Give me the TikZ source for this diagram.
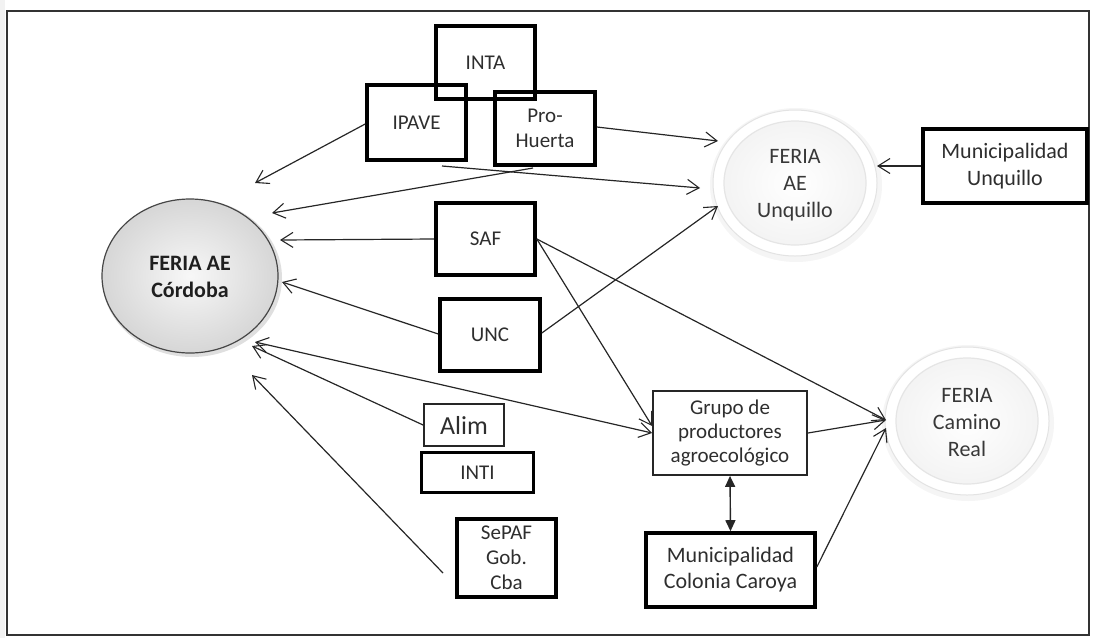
\documentclass[tikz,border=0pt]{standalone}
\usepackage{fontspec}
\setmainfont{Carlito}
\usetikzlibrary{arrows.meta,shapes.geometric}
\tikzset{
  every node/.style={text=black!82, align=center, inner sep=0pt},
  txt/.style={font=\fontsize{21}{25.5}\selectfont},
  boxthick/.style={txt, draw=black, line width=3.6pt, minimum width=#1},
  boxthin/.style={txt, draw=black!85, line width=1.8pt, minimum width=#1},
  conn/.style={draw=black!85, line width=1.2pt, -{Straight Barb[length=12pt,width=15pt,line width=1.1pt]}},
  dbl/.style={draw=black!85, line width=1.4pt, {Triangle[length=11pt,width=10pt]}-{Triangle[length=11pt,width=10pt]}},
  feria/.style={txt, minimum width=#1}
}
\begin{document}
\begin{tikzpicture}[x=1pt,y=-1pt]
\useasboundingbox (0,0) rectangle (1094,638);
\fill[gray!10] (0,0) rectangle (5,638);
\draw[black!80, line width=1.6pt] (7,11) rectangle (1089,635);

% ---- ellipses (decoration) ----
% Cordoba
\fill[gray!25] (192,278) ellipse [x radius=90, y radius=79];
\shade[inner color=gray!6, outer color=gray!32] (190,276) ellipse [x radius=88, y radius=77];
\draw[gray!55!black, line width=1.2pt] (190,276) ellipse [x radius=88, y radius=77];
% Unquillo ring
\fill[gray!8] (796,185) ellipse [x radius=86, y radius=77];
\fill[white] (795,183) ellipse [x radius=82, y radius=73];
\draw[gray!22, line width=1pt] (795,183) ellipse [x radius=82, y radius=73];
\shade[inner color=white, outer color=gray!9] (795,183) ellipse [x radius=71, y radius=62];
\draw[gray!20, line width=1.2pt] (795,183) ellipse [x radius=71, y radius=62];
% Camino Real ring
\fill[gray!8] (968,423) ellipse [x radius=86, y radius=78];
\fill[white] (967,421) ellipse [x radius=82, y radius=74];
\draw[gray!22, line width=1pt] (967,421) ellipse [x radius=82, y radius=74];
\shade[inner color=white, outer color=gray!9] (967,421) ellipse [x radius=71, y radius=63];
\draw[gray!20, line width=1.2pt] (967,421) ellipse [x radius=71, y radius=63];

% ---- nodes ----
\node[txt, font=\fontsize{22}{27}\selectfont\bfseries, text=black!88] (cord) at (190,277) {FERIA AE\\Córdoba};
\node[txt, text=black!78, font=\fontsize{22}{27}\selectfont] (unq) at (795,185) {FERIA\\AE\\Unquillo};
\node[txt, text=black!78, font=\fontsize{22}{27}\selectfont] (cam) at (967,423) {FERIA\\Camino\\Real};

\node[boxthick=99pt, minimum height=73pt] (inta) at (485.5,62.5) {INTA};
\node[boxthick=99pt, minimum height=75pt] (ipave) at (416.5,122.5) {IPAVE};
\node[boxthick=100pt, minimum height=73pt] (pro) at (545,128.5) {Pro-\\Huerta};
\node[boxthick=99pt, minimum height=72pt] (saf) at (485.5,239) {SAF};
\node[boxthick=100pt, minimum height=72pt] (unc) at (490,335) {UNC};
\node[boxthin=80pt, minimum height=42pt, font=\fontsize{26}{30}\selectfont] (alim) at (464,425) {Alim};
\node[boxthick=112pt, minimum height=40pt, line width=2.8pt] (inti) at (477.5,472.5) {INTI};
\node[boxthick=99pt, minimum height=78pt, font=\fontsize{21}{25}\selectfont] (sepaf) at (506.5,558) {SePAF\\Gob.\\Cba};
\node[boxthin=154pt, minimum height=84pt, font=\fontsize{21}{24}\selectfont] (grupo) at (730,433) {Grupo de\\productores\\agroecológico};
\node[boxthick=169pt, minimum height=74pt, font=\fontsize{22}{26}\selectfont] (caroya) at (730.5,570) {Municipalidad\\Colonia Caroya};
\node[boxthick=164pt, minimum height=74pt, font=\fontsize{22}{27}\selectfont] (munq) at (1005,166) {Municipalidad\\Unquillo};

% ---- free ends ----
\coordinate (ipaveS) at (442,166);
\coordinate (proS) at (533,168);
\coordinate (sepafS) at (443,573);
\coordinate (tIpave) at (255,183);
\coordinate (tPro) at (272,213);
\coordinate (tSaf) at (280,240);
\coordinate (tUnc) at (282,282);
\coordinate (tGrupo) at (255,342);
\coordinate (tAlim) at (252,346);
\coordinate (tSepaf) at (252,375);
\coordinate (uPro) at (718,141);
\coordinate (uIpave) at (700,188);
\coordinate (uUnc) at (718,206);
\coordinate (uMun) at (877,166);
\coordinate (cA) at (886,420);
\coordinate (cB) at (886,428);

% ---- connectors ----
\draw[conn] (ipave.west |- 0,124) -- (tIpave);
\draw[conn] (proS) -- (tPro);
\draw[conn] (saf.west) -- (tSaf);
\draw[conn] (unc.west |- 0,334) -- (tUnc);
\draw[conn, {Straight Barb[length=12pt,width=15pt,line width=1.1pt]}-{Straight Barb[length=12pt,width=15pt,line width=1.1pt]}] (tGrupo) -- (grupo.west);
\draw[conn] (alim.west) -- (tAlim);
\draw[conn] (sepafS) -- (tSepaf);
\draw[conn] (pro.east |- 0,127) -- (uPro);
\draw[conn] (ipaveS) -- (uIpave);
\draw[conn] (unc.east |- 0,333) -- (uUnc);
\draw[conn] (munq.west) -- (uMun);
\draw[conn] (saf.east) -- (grupo.west |- 0,426);
\draw[conn] (saf.east) -- (cA);
\draw[conn] (grupo.east) -- (cA);
\draw[conn] (caroya.east |- 0,567) -- (cB);
\draw[dbl] (grupo.south) -- (caroya.north);
\end{tikzpicture}
\end{document}
